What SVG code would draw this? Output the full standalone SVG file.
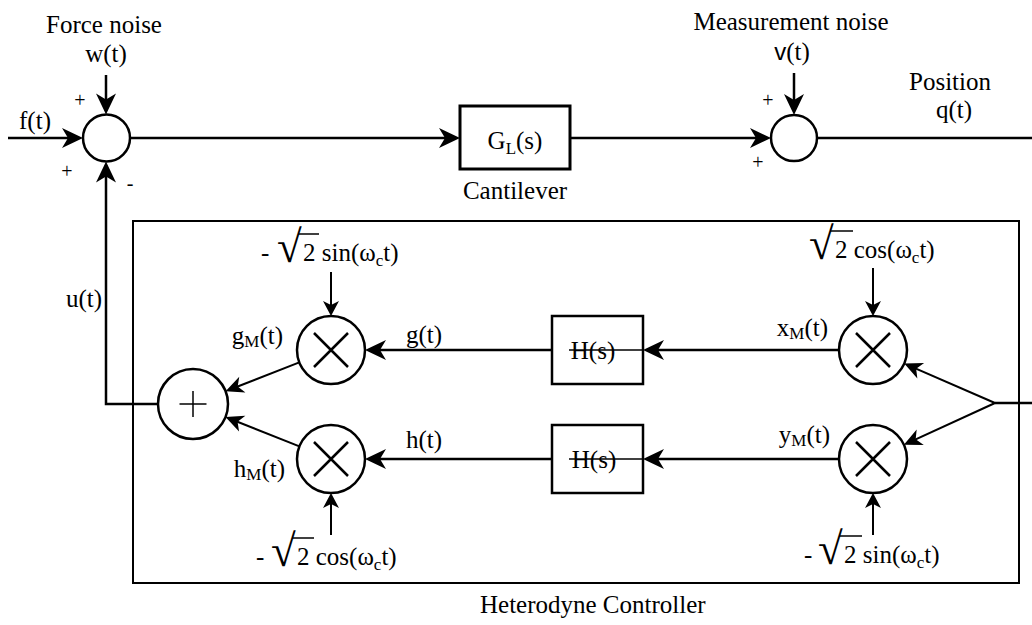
<svg xmlns="http://www.w3.org/2000/svg" width="1032" height="625" viewBox="0 0 1032 625">
<style>
text{font-family:"Liberation Serif","Times New Roman",serif;font-size:25px;fill:#000}
.sm{font-size:20px}
.sub{font-size:17px}
.mid{text-anchor:middle}
.end{text-anchor:end}
.rad{font-size:30px}
.ln{stroke:#000;stroke-width:2.5;fill:none}
.ln2{stroke:#000;stroke-width:2;fill:none}
.thin{stroke:#000;stroke-width:1.5;fill:none}
.node{fill:#fff;stroke:#000;stroke-width:2.5}
.box{fill:#fff;stroke:#000;stroke-width:3}
.hbox{fill:none;stroke:#000;stroke-width:2.5}
.ctrl{fill:none;stroke:#000;stroke-width:2}
</style>
<defs>
<marker id="big" viewBox="-25 -12 30 24" markerWidth="30" markerHeight="24" markerUnits="userSpaceOnUse" refX="-4" refY="0" orient="auto" overflow="visible">
<path d="M0,0 L-21,-10 L-15,0 L-21,10 Z" fill="#000"/>
</marker>
<marker id="med" viewBox="-25 -12 30 24" markerWidth="30" markerHeight="24" markerUnits="userSpaceOnUse" refX="-4" refY="0" orient="auto" overflow="visible">
<path d="M0,0 L-18,-8.5 L-13,0 L-18,8.5 Z" fill="#000"/>
</marker>
<marker id="sml" viewBox="-25 -12 30 24" markerWidth="30" markerHeight="24" markerUnits="userSpaceOnUse" refX="-4" refY="0" orient="auto" overflow="visible">
<path d="M0,0 L-15,-8 L-11,0 L-15,8 Z" fill="#000"/>
</marker>
</defs>

<g id="controller-box">
<rect class="ctrl" x="133" y="221" width="886" height="362"/>
<text x="480" y="613">Heterodyne Controller</text>
</g>

<g id="connectors">
<line class="ln" x1="8" y1="138" x2="79" y2="138" marker-end="url(#big)"/>
<line class="ln" x1="106" y1="75" x2="106" y2="110.5" marker-end="url(#big)"/>
<line class="ln" x1="130" y1="138" x2="456" y2="138" marker-end="url(#big)"/>
<line class="ln" x1="570" y1="138" x2="767" y2="138" marker-end="url(#big)"/>
<line class="ln" x1="794" y1="73" x2="794" y2="111" marker-end="url(#big)"/>
<line class="ln" x1="817" y1="138" x2="1032" y2="138"/>
<polyline class="ln" points="158,404 106,404 106,165.5" marker-end="url(#big)"/>
<line class="ln" x1="1032" y1="403" x2="995" y2="403"/>
<line class="ln2" x1="995" y1="403" x2="907.9" y2="365.1" marker-end="url(#med)"/>
<line class="ln2" x1="995" y1="403" x2="907.5" y2="443.1" marker-end="url(#med)"/>
<line class="ln" x1="839" y1="350" x2="647" y2="350" marker-end="url(#big)"/>
<line class="ln" x1="839" y1="459" x2="647" y2="459" marker-end="url(#big)"/>
<line class="thin" x1="569" y1="350" x2="643" y2="350"/>
<line class="thin" x1="569" y1="459" x2="643" y2="459"/>
<line class="ln" x1="552" y1="350" x2="369" y2="350" marker-end="url(#big)"/>
<line class="ln" x1="552" y1="459" x2="369" y2="459" marker-end="url(#big)"/>
<line class="ln2" x1="299.3" y1="362.4" x2="229.3" y2="389.8" marker-end="url(#med)"/>
<line class="ln2" x1="299.4" y1="446.4" x2="229.2" y2="418.5" marker-end="url(#med)"/>
<line class="ln2" x1="331" y1="272" x2="331" y2="312" marker-end="url(#sml)"/>
<line class="ln2" x1="873" y1="268" x2="873" y2="312" marker-end="url(#sml)"/>
<line class="ln2" x1="331" y1="535" x2="331" y2="497" marker-end="url(#sml)"/>
<line class="ln2" x1="873" y1="535" x2="873" y2="497" marker-end="url(#sml)"/>
</g>

<g id="sum-force">
<circle class="node" cx="106.5" cy="138" r="23.5"/>
<text class="mid" x="104" y="33">Force noise</text>
<text class="mid" x="106" y="62">w(t)</text>
<text class="mid" x="35" y="129">f(t)</text>
<text class="sm mid" x="80" y="107">+</text>
<text class="sm mid" x="67" y="178">+</text>
<text class="sm mid" x="130" y="190">-</text>
</g>

<g id="cantilever">
<rect class="box" x="460" y="106" width="110" height="63"/>
<text class="mid" x="515" y="149">G<tspan class="sub" dy="5">L</tspan><tspan dy="-5">(s)</tspan></text>
<text class="mid" x="515" y="199">Cantilever</text>
</g>

<g id="sum-measure">
<circle class="node" cx="794" cy="138" r="23"/>
<text class="mid" x="791" y="30">Measurement noise</text>
<text class="mid" x="792" y="60"><tspan style="font-family:'Liberation Sans',Arial,sans-serif;font-size:24px">v</tspan>(t)</text>
<text class="sm mid" x="768" y="107">+</text>
<text class="sm mid" x="758" y="169">+</text>
<text class="mid" x="950" y="90">Position</text>
<text class="mid" x="954" y="118">q(t)</text>
</g>

<g id="feedback-label">
<text class="end" x="102" y="307">u(t)</text>
</g>

<g id="sum-plus">
<circle class="node" cx="193" cy="404" r="35"/>
<line class="thin" x1="179.5" y1="404" x2="206.5" y2="404"/>
<line class="thin" x1="193" y1="391" x2="193" y2="417"/>
</g>

<g id="mult-g">
<circle class="node" cx="331" cy="350" r="34"/>
<path class="ln" d="M314,333 L348,367 M348,333 L314,367"/>
<text class="end" x="283" y="344">g<tspan class="sub" dy="3">M</tspan><tspan dy="-3">(t)</tspan></text>
<text x="261" y="261">-</text>
<text class="rad" transform="translate(277,262) scale(1.5,1.5)">√</text>
<line class="thin" x1="298" y1="234" x2="319" y2="234"/>
<text x="303" y="261">2 sin(ω<tspan class="sub" dy="5">c</tspan><tspan dy="-5">t)</tspan></text>
</g>

<g id="mult-h">
<circle class="node" cx="331" cy="459" r="34"/>
<path class="ln" d="M314,442 L348,476 M348,442 L314,476"/>
<text class="end" x="285" y="477">h<tspan class="sub" dy="3">M</tspan><tspan dy="-3">(t)</tspan></text>
<text x="256" y="565">-</text>
<text class="rad" transform="translate(271,566) scale(1.5,1.5)">√</text>
<line class="thin" x1="292" y1="538" x2="314" y2="538"/>
<text x="297" y="565">2 cos(ω<tspan class="sub" dy="5">c</tspan><tspan dy="-5">t)</tspan></text>
</g>

<g id="filter-g">
<rect class="hbox" x="552" y="316" width="91" height="68"/>
<text class="mid" x="593" y="359">H(s)</text>
<text x="406" y="343">g(t)</text>
</g>

<g id="filter-h">
<rect class="hbox" x="552" y="425" width="91" height="68"/>
<text class="mid" x="594" y="468">H(s)</text>
<text x="406" y="448">h(t)</text>
</g>

<g id="mult-x">
<circle class="node" cx="873" cy="350" r="34"/>
<path class="ln" d="M856,333 L890,367 M890,333 L856,367"/>
<text class="end" x="828" y="336">x<tspan class="sub" dy="3">M</tspan><tspan dy="-3">(t)</tspan></text>
<text class="rad" transform="translate(809,259) scale(1.5,1.5)">√</text>
<line class="thin" x1="830" y1="231" x2="853" y2="231"/>
<text x="835" y="258">2 cos(ω<tspan class="sub" dy="5">c</tspan><tspan dy="-5">t)</tspan></text>
</g>

<g id="mult-y">
<circle class="node" cx="873" cy="459" r="34"/>
<path class="ln" d="M856,442 L890,476 M890,442 L856,476"/>
<text class="end" x="830" y="443">y<tspan class="sub" dy="3">M</tspan><tspan dy="-3">(t)</tspan></text>
<text x="804" y="563">-</text>
<text class="rad" transform="translate(818,564) scale(1.5,1.5)">√</text>
<line class="thin" x1="839" y1="536" x2="862" y2="536"/>
<text x="844" y="563">2 sin(ω<tspan class="sub" dy="5">c</tspan><tspan dy="-5">t)</tspan></text>
</g>
</svg>
